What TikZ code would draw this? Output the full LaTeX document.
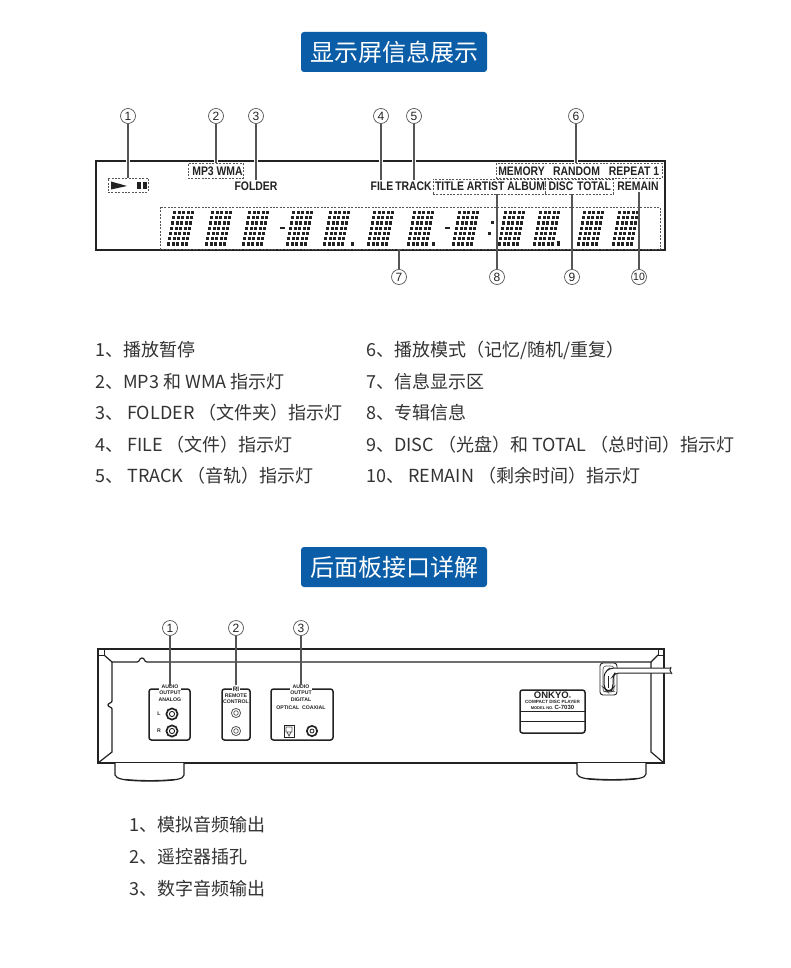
\documentclass[tikz,border=0pt]{standalone}
\usepackage{fontspec}
\setmainfont{Noto Sans CJK SC}
\newfontfamily\lcdfont[FakeStretch=0.84]{Liberation Sans}
\newfontfamily\smallfont{Liberation Sans}
\definecolor{bluebar}{HTML}{0A5DA6}
\definecolor{listtxt}{HTML}{333333}
\definecolor{ink}{HTML}{222222}
\definecolor{leader}{HTML}{555555}
\tikzset{
  titlebar/.style={fill=bluebar,rounded corners=3pt,minimum width=186pt,minimum height=40pt,inner sep=0pt,text=white,font=\fontsize{24}{24}\selectfont},
  listitem/.style={anchor=west,inner sep=0pt,text=listtxt,font=\fontsize{18}{18}\selectfont},
  callout/.style={circle,draw=leader,line width=.7pt,fill=white,minimum size=15pt,inner sep=0pt,text=ink,font=\smallfont\fontsize{12}{12}\selectfont},
  leaderline/.style={draw=leader,line width=1.1pt},
  lcdframe/.style={draw=ink,line width=1.5pt},
  dashbox/.style={draw=leader,line width=.7pt,dash pattern=on 2pt off 1.4pt},
  lcdtext/.style={inner sep=0pt,text=ink,font=\lcdfont\bfseries\fontsize{12.4}{12.4}\selectfont},
  panel/.style={draw=ink,line width=1.2pt},
  panelthin/.style={draw=ink,line width=.7pt},
  jackbox/.style={draw=ink,line width=1.5pt,rounded corners=2.5pt},
  tinytext/.style={inner sep=.6pt,fill=white,text=ink,align=center,font=\smallfont\bfseries\fontsize{5.2}{5.6}\selectfont},
}
\newcommand{\lcddigit}[1]{%
  \foreach \r in {0,...,6}{\foreach \c in {0,...,4}{%
    \fill[ink] ({#1+\c*4.55+(6-\r)*1.0},{211+\r*5.2}) rectangle ++(3.1,3.3);}}}
\begin{document}
\begin{tikzpicture}[x=1pt,y=-1pt]
\useasboundingbox (0,0) rectangle (790,968);
\fill[white] (0,0) rectangle (790,968);

% ---------- titles
\node[titlebar] (title1) at (394,52) {显示屏信息展示};
\node[titlebar] (title2) at (394,567) {后面板接口详解};

% ---------- LCD
\draw[lcdframe] (96,250) -- (96,161) -- (665,161) -- (665,250) -- cycle;
\foreach \x in {128,216,256,381,414,576}{\draw[white,line width=3.4pt] (\x,159) -- (\x,163);}
\draw[dashbox] (160,207) rectangle (660,249);
\foreach \d in {167,205,242,286,323,367,407,452,498,533,577,612}{\lcddigit{\d}}
\fill[ink] (280,227) rectangle (285,229);
\fill[ink] (445,227) rectangle (450,229);
\fill[ink] (350.5,242) rectangle (354,246);
\fill[ink] (431.5,242) rectangle (435,246);
\fill[ink] (556.5,241.5) rectangle (560,245.5);
\fill[ink] (490.5,221) rectangle (494,224.5);
\fill[ink] (487.5,232) rectangle (491,235.5);

\node[draw=leader,dashbox,minimum width=40pt,minimum height=14pt,inner sep=0pt] (playbox) at (128,185) {};
\fill[ink] (111,181.5) -- (127,186) -- (111,189.5) -- cycle;
\fill[ink] (137,182) rectangle (141,189.5);
\fill[ink] (143,182) rectangle (147,189.5);

\node[dashbox,minimum width=55pt,minimum height=15pt,inner sep=0pt] (mp3box) at (215.5,171) {};
\node[lcdtext] (mp3) at (217.5,171) {MP3 WMA};
\node[lcdtext] (folder) at (256,186) {FOLDER};
\node[lcdtext] (file) at (382,186) {FILE};
\node[lcdtext] (track) at (413.5,186) {TRACK};
\node[dashbox,minimum width=166pt,minimum height=15pt,inner sep=0pt] (modebox) at (579,171) {};
\node[lcdtext] (memory) at (521.5,171) {MEMORY};
\node[lcdtext] (random) at (576.5,171) {RANDOM};
\node[lcdtext] (repeat) at (634,171) {REPEAT 1};
\node[dashbox,minimum width=112pt,minimum height=15pt,inner sep=0pt] (infobox) at (489,186.5) {};
\node[lcdtext] (infotxt) at (490,186) {TITLE ARTIST ALBUM};
\node[dashbox,minimum width=68pt,minimum height=15pt,inner sep=0pt] (discbox) at (579,186.5) {};
\node[lcdtext] (disc) at (561,186) {DISC};
\node[lcdtext] (total) at (594,186) {TOTAL};
\node[lcdtext] (remain) at (638,186) {REMAIN};

\coordinate (t1) at (128,178);
\coordinate (t2) at (216,163);
\coordinate (t3) at (256,180.5);
\coordinate (t4) at (381,180.5);
\coordinate (t5) at (414,180.5);
\coordinate (t6) at (576,163);
\coordinate (t7) at (399,249);
\coordinate (t8) at (497,194);
\coordinate (t9) at (572,194);
\coordinate (t10) at (639,192);
\node[callout] (c1) at (128,116) {1};
\node[callout] (c2) at (216,116) {2};
\node[callout] (c3) at (256,116) {3};
\node[callout] (c4) at (381,116) {4};
\node[callout] (c5) at (414,116) {5};
\node[callout] (c6) at (576,116) {6};
\node[callout] (c7) at (399,277) {7};
\node[callout] (c8) at (497,277) {8};
\node[callout] (c9) at (572,277) {9};
\node[callout] (c10) at (639,277) {\fontsize{10.5}{10.5}\selectfont 10};
\foreach \n in {1,...,10}{\draw[leaderline] (c\n) -- (t\n);}

% ---------- lists
\node[listitem] (l1) at (95,350) {1、播放暂停};
\node[listitem] (l2) at (95,382) {2、MP3 和 WMA 指示灯};
\node[listitem] (l3) at (95,413) {3、 FOLDER （文件夹）指示灯};
\node[listitem] (l4) at (95,445) {4、 FILE （文件）指示灯};
\node[listitem] (l5) at (95,476) {5、 TRACK （音轨）指示灯};
\node[listitem] (l6) at (366,350) {6、播放模式（记忆/随机/重复）};
\node[listitem] (l7) at (366,382) {7、信息显示区};
\node[listitem] (l8) at (366,413) {8、专辑信息};
\node[listitem] (l9) at (366,445) {9、DISC （光盘）和 TOTAL （总时间）指示灯};
\node[listitem] (l10) at (366,476) {10、 REMAIN （剩余时间）指示灯};
\node[listitem] (b1) at (129,825) {1、模拟音频输出};
\node[listitem] (b2) at (129,857) {2、遥控器插孔};
\node[listitem] (b3) at (129,889) {3、数字音频输出};

% ---------- rear panel
\draw[panel,fill=white] (98,649) rectangle (664,763);
\draw[panelthin] (98,649) rectangle (104,655);
\draw[panel] (104,655) -- (112,662) -- (137,662);
\draw[panel] (137,662) .. controls (140,662) and (139,658) .. (142,658) .. controls (145,658) and (144,662) .. (147,662) -- (651,662) -- (658,655);
\draw[panelthin] (658,655) rectangle (664,649);
\draw[panel] (112,662) -- (112,701) .. controls (112,703) and (108,703) .. (108,705) .. controls (108,707) and (112,707) .. (112,709) -- (112,752) -- (98,763);
\draw[panel] (651,662) -- (651,752) -- (664,763);
% feet
\draw[panel,fill=white] (115,763) -- (115,775) .. controls (116,779) and (125,781) .. (150,781) .. controls (175,781) and (184,779) .. (184,775) -- (184,763);
\draw[panel,fill=white] (577,763) -- (577,774) .. controls (578,778) and (587,780) .. (612,780) .. controls (637,780) and (646,778) .. (646,774) -- (646,763);
\draw[panel] (125,779.5) .. controls (140,781) and (160,781) .. (175,779.5);
\draw[panel] (587,778.5) .. controls (602,780) and (622,780) .. (637,778.5);

% jack boxes
\draw[jackbox] (149,689) rectangle (190,740);
\draw[jackbox] (222,689) rectangle (250,740);
\draw[jackbox] (271,689) rectangle (333,740);
\node[tinytext] (audio1) at (170,690) {AUDIO\\OUTPUT};
\node[tinytext] (analog) at (170,699.5) {ANALOG};
\node[tinytext] (ri) at (236,689.5) {\fontsize{6.5}{6.5}\selectfont RI};
\node[tinytext] (remote) at (236,699) {REMOTE\\CONTROL};
\node[tinytext] (audio2) at (301,690) {AUDIO\\OUTPUT};
\node[tinytext] (digital) at (301,699.5) {DIGITAL};
\node[tinytext] (optcoax) at (301,708) {OPTICAL\ \ COAXIAL};
\node[tinytext,fill=none] (lL) at (159,714) {L};
\node[tinytext,fill=none] (lR) at (159,731) {R};

\foreach \x/\y in {172/714,172/731}{
  \draw[draw=ink,line width=1.7pt] (\x,\y) circle (5.6);
  \draw[draw=ink,line width=.9pt] (\x,\y) circle (2.6);}
\foreach \x/\y in {236/713,236/731}{
  \draw[draw=leader,line width=.8pt] (\x,\y) circle (4.6);
  \draw[draw=leader,line width=.7pt] (\x,\y) circle (2.3);}
\draw[draw=ink,line width=1.6pt] (312,731) circle (5.2);
\draw[draw=ink,line width=.8pt] (312,731) circle (2);
\draw[draw=ink,line width=.9pt] (284,725) rectangle (294,737);
\draw[draw=leader,line width=.7pt] (286,727) rectangle (292,732) (287,732) -- (289,736) -- (291,732);

% leaders of the rear panel
\coordinate (r1) at (170,686);
\coordinate (r2) at (236,685);
\coordinate (r3) at (301,685);
\node[callout] (p1) at (170,628) {1};
\node[callout] (p2) at (236,628) {2};
\node[callout] (p3) at (301,628) {3};
\foreach \n in {1,2,3}{\draw[leaderline] (p\n) -- (r\n);}

% label plate
\draw[draw=ink,line width=1.5pt,rounded corners=2.5pt] (520,690) rectangle (585,733);
\draw[panelthin] (520,711) -- (585,711);
\draw[draw=ink,line width=1pt] (520,721) -- (585,721);
\node[inner sep=0pt,text=ink,font=\smallfont\bfseries\fontsize{9.5}{9.5}\selectfont] (onkyo) at (552.5,695.5) {ONKYO\raisebox{.3pt}{\fontsize{3}{3}\selectfont ®}};
\node[inner sep=0pt,text=ink,font=\smallfont\bfseries\fontsize{4.6}{4.6}\selectfont] (cdp) at (552.5,701.5) {COMPACT DISC PLAYER};
\node[inner sep=0pt,text=ink,font=\smallfont\bfseries\fontsize{4}{4}\selectfont] (model) at (552.5,707) {MODEL NO. \fontsize{6}{6}\selectfont C-7030};

% power cord
\draw[draw=ink,line width=.9pt,rounded corners=3pt] (600,663) rectangle (617,695);
\draw[draw=leader,line width=.6pt,rounded corners=3pt] (603,666) rectangle (614,692);
\draw[draw=ink,line width=1pt,rounded corners=4pt,fill=white] (671,668) -- (610,668) -- (604,673) -- (604,688) -- (607,691) -- (611,691) -- (613,688) -- (613,676) -- (615,673) -- (671,673);
\draw[draw=ink,line width=.8pt] (608,676) -- (608,688);
\draw[draw=ink,line width=1pt] (671,667) -- (670,670.5) -- (672,674);
\end{tikzpicture}
\end{document}
